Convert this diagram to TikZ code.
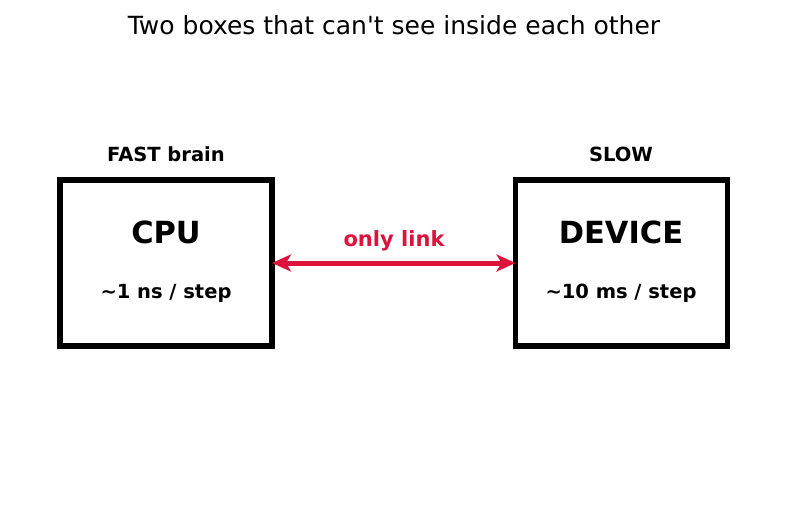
\documentclass[tikz,border=0pt]{standalone}
\usepackage{fontspec}
\setmainfont{DejaVu Sans}[Ligatures=TeXOff]
\usetikzlibrary{arrows.meta}
\definecolor{linkred}{HTML}{DC143C}
\begin{document}
\begin{tikzpicture}[x=1pt,y=-1pt,
  box/.style={draw=black,line width=5.5pt,minimum width=212pt,minimum height=166pt,inner sep=0pt,outer sep=0pt,fill=white},
  lbl/.style={font=\fontsize{19.5}{23}\selectfont\bfseries,inner sep=0pt},
  big/.style={font=\fontsize{30.5}{35}\selectfont\bfseries,inner sep=0pt},
  link/.style={draw=linkred,line width=5pt,{Stealth[length=19pt,width=17pt,inset=5pt]}-{Stealth[length=19pt,width=17pt,inset=5pt]}}]
\useasboundingbox (0,0) rectangle (787,511);
\fill[white] (0,0) rectangle (787,511);
\node[inner sep=0pt,font=\fontsize{25}{29}\selectfont] (title) at (394,25) {Two boxes that can't see inside each other};
\node[box] (cpu) at (166,263) {};
\node[box] (dev) at (621.5,263) {};
\node[lbl] (fast) at (166,154) {FAST brain};
\node[lbl] (slow) at (621,154) {SLOW};
\node[big] (cpun) at (166,232) {CPU};
\node[lbl] (cpus) at (166,293.5) {\textasciitilde1 ns / step};
\node[big] (devn) at (621,232) {DEVICE};
\node[lbl] (devs) at (621,293.5) {\textasciitilde10 ms / step};
\node[lbl,font=\fontsize{21}{25}\selectfont\bfseries,text=linkred] (only) at (394,240.5) {only link};
\draw[link] (cpu.east) -- (dev.west);
\end{tikzpicture}
\end{document}
